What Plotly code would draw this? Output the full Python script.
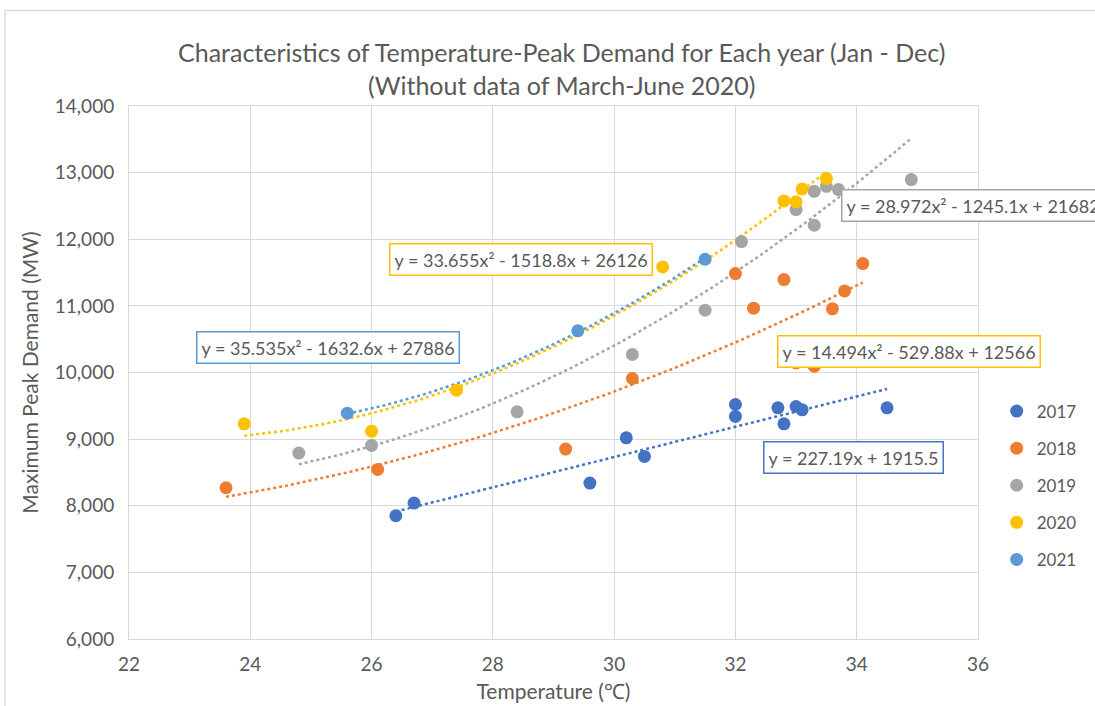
import numpy as np
import plotly.graph_objects as go

# ---------------- data ----------------
t2017 = [26.4, 26.7, 29.6, 30.2, 30.5, 32.0, 32.0, 32.7, 32.8, 33.0, 33.1, 34.5]
d2017 = [7850, 8040, 8340, 9020, 8740, 9520, 9340, 9470, 9230, 9490, 9440, 9470]

t2018 = [23.6, 26.1, 29.2, 30.3, 32.0, 32.3, 32.8, 33.0, 33.3, 33.6, 33.8, 34.1]
d2018 = [8270, 8545, 8850, 9910, 11485, 10965, 11395, 10145, 10095, 10955, 11225, 11635]

t2019 = [24.8, 26.0, 28.4, 30.3, 31.5, 32.1, 33.0, 33.3, 33.3, 33.5, 33.7, 34.9]
d2019 = [8790, 8905, 9410, 10270, 10935, 11965, 12445, 12210, 12720, 12795, 12745, 12895]

t2020 = [23.9, 26.0, 27.4, 30.8, 32.8, 33.0, 33.1, 33.5]
d2020 = [9230, 9120, 9735, 11585, 12575, 12560, 12755, 12910]

t2021 = [25.6, 29.4, 31.5]
d2021 = [9390, 10625, 11700]

# trendline coefficients (highest power first), as printed on the chart
coef2017 = [227.19, 1915.5]
coef2018 = [14.494, -529.88, 12566]
coef2019 = [28.972, -1245.1, 21682]
coef2020 = [33.655, -1518.8, 26126]
coef2021 = [35.535, -1632.6, 27886]

eq2017 = "y = 227.19x + 1915.5"
eq2018 = "y = 14.494x² - 529.88x + 12566"
eq2019 = "y = 28.972x² - 1245.1x + 21682"
eq2020 = "y = 33.655x² - 1518.8x + 26126"
eq2021 = "y = 35.535x² - 1632.6x + 27886"

years = ["2017", "2018", "2019", "2020", "2021"]
colors = ["#4472C4", "#ED7D31", "#A5A5A5", "#FFC000", "#5B9BD5"]

series = [
    (t2017, d2017, coef2017),
    (t2018, d2018, coef2018),
    (t2019, d2019, coef2019),
    (t2020, d2020, coef2020),
    (t2021, d2021, coef2021),
]

FONT = "Lato"
TXT = "#595959"

fig = go.Figure()

# trendlines first (under markers)
for (t, d, c), col in zip(series, colors):
    xs = np.linspace(min(t), max(t), 80)
    fig.add_trace(go.Scatter(
        x=xs, y=np.polyval(c, xs), mode="lines",
        line=dict(color=col, width=2.5, dash="dot"),
        showlegend=False, hoverinfo="skip"))

for i, ((t, d, c), col, yr) in enumerate(zip(series, colors, years)):
    fig.add_trace(go.Scatter(
        x=t, y=d, mode="markers", name=yr, legendgroup=yr,
        marker=dict(color=col, size=13, line=dict(width=0))))

# equation labels (x: left edge in data units, y: centre)
labels = [
    (eq2019, 33.74, 12510, "#A5A5A5"),
    (eq2020, 26.29, 11700, "#FFC000"),
    (eq2021, 23.11, 10370, "#5B9BD5"),
    (eq2018, 32.68, 10312, "#FFC000"),
    (eq2017, 32.45, 8722, "#4472C4"),
]
for txt, x, y, bc in labels:
    fig.add_annotation(
        x=x, y=y, xref="x", yref="y", text=txt, showarrow=False,
        xanchor="left", yanchor="middle",
        font=dict(family=FONT, size=18, color=TXT),
        bgcolor="white", bordercolor=bc, borderwidth=1.5, borderpad=4)

# outer chart border
fig.add_shape(type="rect", xref="paper", yref="paper",
              x0=-0.146, x1=1.5, y0=-0.5, y1=1.179,
              line=dict(color="#D9D9D9", width=1.5), layer="below")

fig.update_layout(
    width=1095, height=706,
    margin=dict(l=129, r=117, t=106, b=67),
    paper_bgcolor="white", plot_bgcolor="white",
    font=dict(family=FONT, color=TXT),
    title=dict(
        text="Characteristics of Temperature-Peak Demand for Each year (Jan - Dec)<br>(Without data of March-June 2020)",
        x=0.513, xanchor="center", y=0.912, yanchor="middle",
        font=dict(family=FONT, size=25, color=TXT)),
    legend=dict(x=1.022, xanchor="left", y=0.288, yanchor="middle",
                font=dict(family=FONT, size=17, color=TXT),
                tracegroupgap=12, itemwidth=30, bgcolor="rgba(0,0,0,0)"),
    showlegend=True,
)
fig.update_xaxes(
    range=[22, 36], dtick=2, tick0=22, showgrid=True, gridcolor="#D9D9D9", gridwidth=1,
    showline=True, mirror=True, linecolor="#D9D9D9", linewidth=1, zeroline=False,
    automargin=False,
    ticks="", tickfont=dict(family=FONT, size=19, color=TXT), ticklabelstandoff=8,
    title=dict(text="Temperature (℃)", font=dict(family=FONT, size=21, color=TXT), standoff=10))
fig.update_yaxes(
    range=[6000, 14000], dtick=1000, showgrid=True, gridcolor="#D9D9D9", gridwidth=1,
    showline=True, mirror=True, linecolor="#D9D9D9", linewidth=1, zeroline=False,
    automargin=False,
    ticks="", tickformat=",d", tickfont=dict(family=FONT, size=19, color=TXT),
    ticklabelstandoff=10,
    title=dict(text="Maximum Peak Demand (MW)", font=dict(family=FONT, size=21, color=TXT), standoff=10))

fig.write_html("out.html")
